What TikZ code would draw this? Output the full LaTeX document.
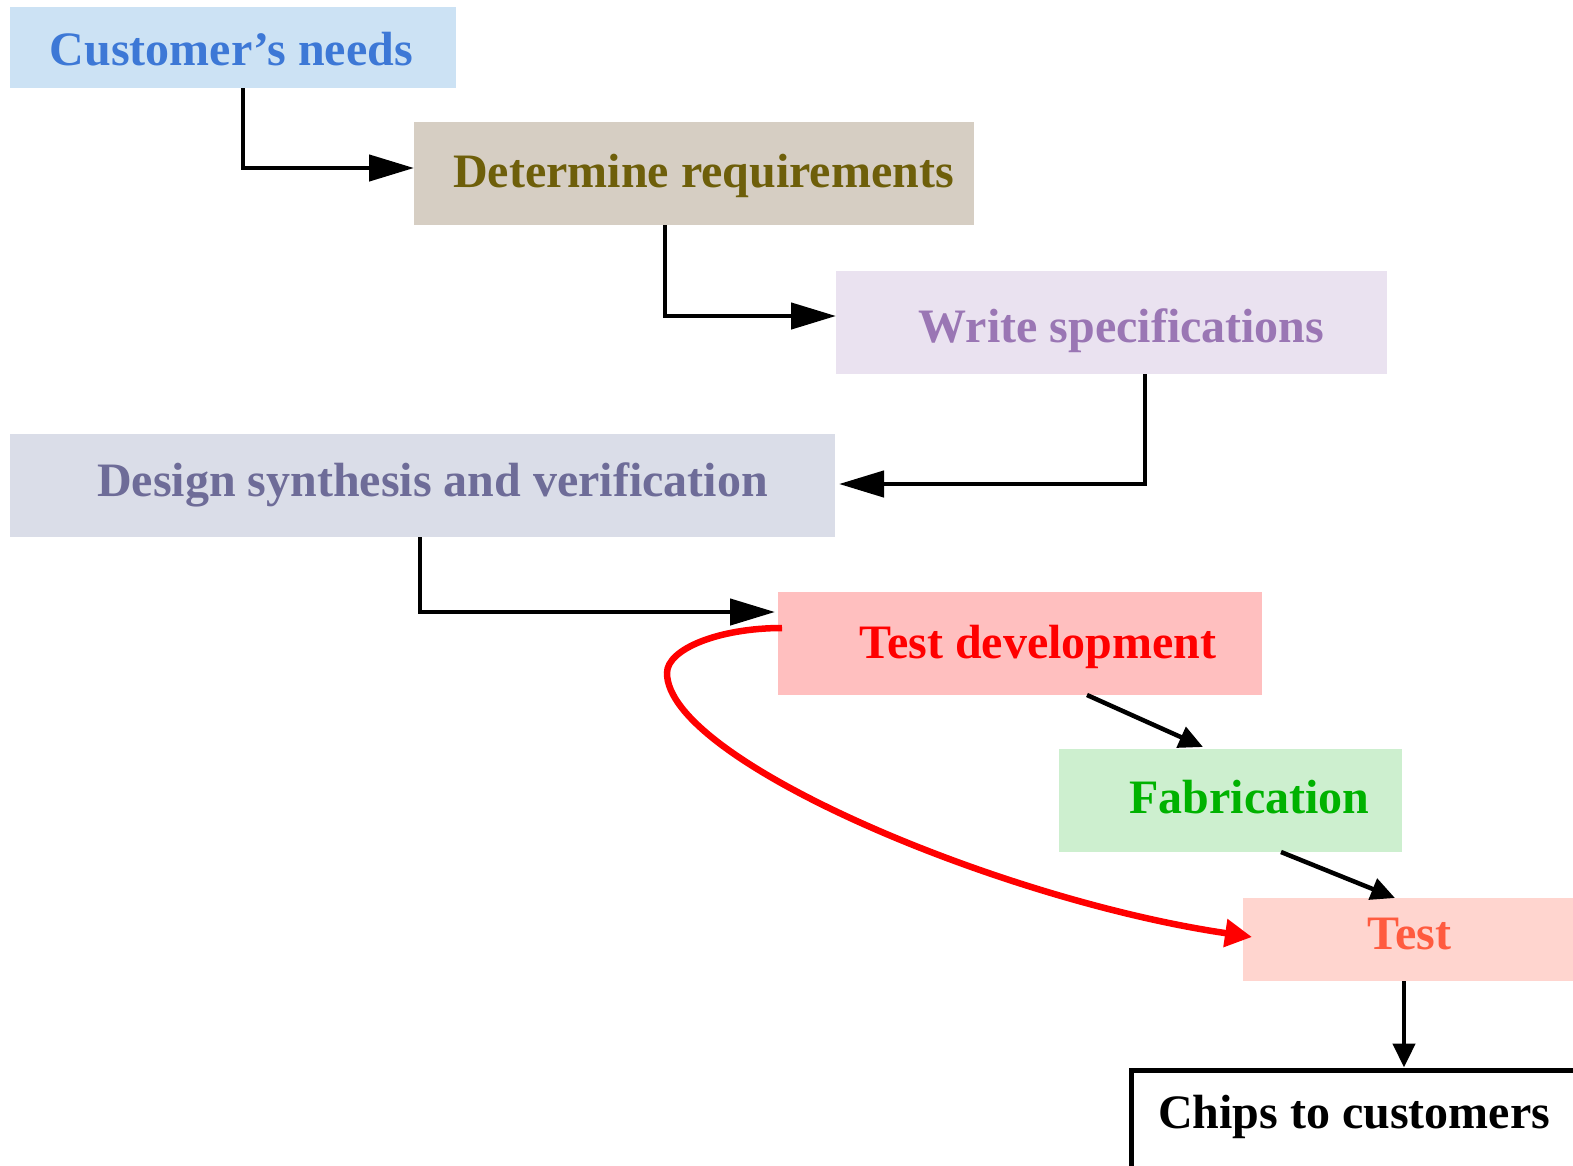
\documentclass[tikz,border=0pt]{standalone}
\usepackage{fontspec}
\setmainfont{Liberation Serif}
\usetikzlibrary{arrows.meta,calc}
\definecolor{cnF}{HTML}{CCE2F4}\definecolor{cnT}{HTML}{3D78D6}
\definecolor{drF}{HTML}{D6CEC3}\definecolor{drT}{HTML}{6E5F0A}
\definecolor{wsF}{HTML}{EAE2F0}\definecolor{wsT}{HTML}{9A76B4}
\definecolor{dsF}{HTML}{DADDE8}\definecolor{dsT}{HTML}{6E6C98}
\definecolor{tdF}{HTML}{FFBFBF}\definecolor{tdT}{HTML}{FF0000}
\definecolor{fbF}{HTML}{CDEFCF}\definecolor{fbT}{HTML}{00B200}
\definecolor{tsF}{HTML}{FFD5CF}\definecolor{tsT}{HTML}{FF5B3F}
\tikzset{
  box/.style={rectangle, draw=none, inner sep=0pt, outer sep=0pt},
  lbl/.style={anchor=base, inner sep=0pt, font=\fontsize{48}{57}\selectfont\bfseries},
  bigarr/.style={line width=4.5pt, -{Triangle[length=45pt,width=26pt]}},
  smallarr/.style={line width=4.5pt, -{Triangle[length=24pt,width=22pt]}},
  redarr/.style={line width=6.5pt, draw=red, -{Triangle[length=27pt,width=27pt]}},
}
\begin{document}
\begin{tikzpicture}[x=1pt,y=-1pt]
\useasboundingbox (0,0) rectangle (1573,1165);
% boxes
\node[box, fill=cnF, minimum width=446pt, minimum height=81pt] (cn) at (233,47.5) {};
\node[box, fill=drF, minimum width=560pt, minimum height=103pt] (dr) at (694,173.5) {};
\node[box, fill=wsF, minimum width=551pt, minimum height=103pt] (ws) at (1111.5,322.5) {};
\node[box, fill=dsF, minimum width=825pt, minimum height=103pt] (ds) at (422.5,485.5) {};
\node[box, fill=tdF, minimum width=484pt, minimum height=103pt] (td) at (1020,643.5) {};
\node[box, fill=fbF, minimum width=343pt, minimum height=103pt] (fb) at (1230.5,800.5) {};
\node[box, fill=tsF, minimum width=332pt, minimum height=83pt] (ts) at (1409,939.5) {};
\node[box, fill=white, draw=black, line width=5pt, minimum width=445pt, minimum height=105pt] (cc) at (1354,1123) {};
% labels
\node[lbl, text=cnT] (cnl) at (231.5,65) {Customer’s needs};
\node[lbl, text=drT] (drl) at (703.5,187) {Determine requirements};
\node[lbl, text=wsT] (wsl) at (1121.5,342) {Write specifications};
\node[lbl, text=dsT] (dsl) at (432.5,496) {Design synthesis and verification};
\node[lbl, text=tdT] (tdl) at (1038,658) {Test development};
\node[lbl, text=fbT] (fbl) at (1249.5,813) {Fabrication};
\node[lbl, text=tsT] (tsl) at (1409.5,949) {Test};
\node[lbl, text=black] (ccl) at (1354,1128) {Chips to customers};
% connectors
\draw[bigarr] ([xshift=10pt]cn.south) |- ([yshift=5.5pt]dr.west);
\draw[bigarr] ([xshift=-29pt]dr.south) |- ([yshift=6.5pt]ws.west);
\draw[bigarr] ([xshift=33.5pt]ws.south) |- ([xshift=4pt,yshift=1.5pt]ds.east);
\draw[bigarr] ([xshift=-2.5pt]ds.south) |- ([xshift=-3pt,yshift=31.5pt]td.west);
\draw[smallarr] ([xshift=67pt]td.south) -- ([xshift=-27.5pt,yshift=2pt]fb.north);
\draw[smallarr] ([xshift=50.5pt]fb.south) -- ([xshift=-14pt]ts.north);
\draw[smallarr] ([xshift=-5pt]ts.south) -- ([xshift=50pt,yshift=3pt]cc.north);
\coordinate (rc) at (667,673);
\draw[redarr] ([xshift=4pt,yshift=15.5pt]td.west) .. controls (719,628) and (667,649) .. (rc)
  .. controls (667,760) and (1000,900) .. ([xshift=9pt,yshift=2.5pt]ts.west);
\end{tikzpicture}
\end{document}
